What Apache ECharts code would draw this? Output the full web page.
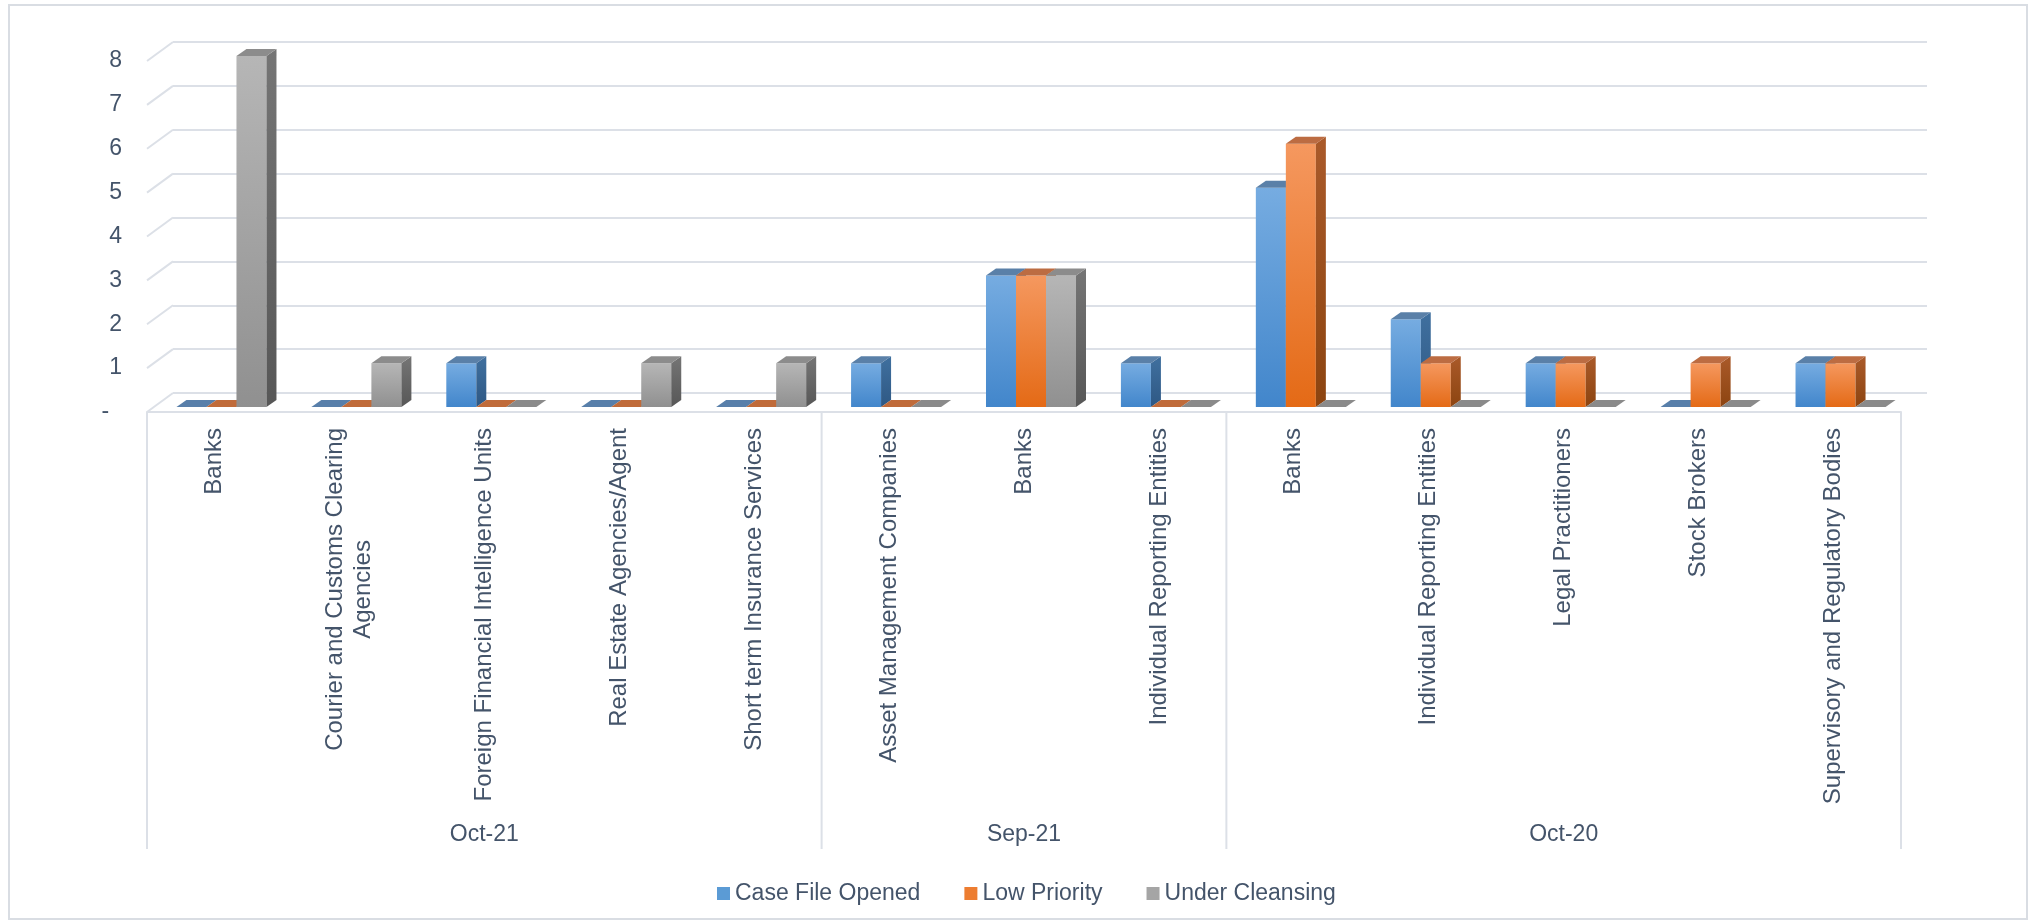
<!DOCTYPE html>
<html>
<head>
<meta charset="utf-8">
<title>Reports by sector and status</title>
<script src="https://cdn.jsdelivr.net/npm/echarts@6/dist/echarts.min.js"></script>
<style>
  html, body { margin: 0; padding: 0; background: #ffffff; }
  #chart { width: 2035px; height: 924px; }
</style>
</head>
<body>
<div id="chart"></div>
<script>
// ---- data ----
const categories = [
  'Banks',
  'Courier and Customs Clearing Agencies',
  'Foreign Financial Intelligence Units',
  'Real Estate Agencies/Agent',
  'Short term Insurance Services',
  'Asset Management Companies',
  'Banks',
  'Individual Reporting Entities',
  'Banks',
  'Individual Reporting Entities',
  'Legal Practitioners',
  'Stock Brokers',
  'Supervisory and Regulatory Bodies'
];
const periodNames = ['Oct-21', 'Sep-21', 'Oct-20'];
const periodSizes = [5, 3, 5];

const seriesNames = ['Case File Opened', 'Low Priority', 'Under Cleansing'];
const caseFileOpened = [0, 0, 1, 0, 0, 1, 3, 1, 5, 2, 1, 0, 1];
const lowPriority    = [0, 0, 0, 0, 0, 0, 3, 0, 6, 1, 1, 1, 1];
const underCleansing = [8, 1, 0, 1, 1, 0, 3, 0, 0, 0, 0, 0, 0];

const yTicks = [0, 1, 2, 3, 4, 5, 6, 7, 8];
const zeroTickLabel = '-';

// ---- styling ----
const FONT = '"Liberation Sans", Arial, Helvetica, sans-serif';
const TEXT = '#44546A';
const LINE = '#DCE0E7';
const DEPTH = [26, -19];     // depth of floor and side wall
const BAR_FRONT = [7, -5];   // bars stand a little behind the floor's front edge
const BAR_DEPTH = [10, -7];  // thickness of each bar
const BAR_FRAC = 0.2224;     // bar width as a share of one category band

const palettes = [
  { legend: '#5B9BD5', front: ['#76ACE1', '#4286CB'], side: ['#40709F', '#2E5884'], top: '#5A80A8', flat: '#587FAA' },
  { legend: '#ED7D31', front: ['#F5985F', '#E46A16'], side: ['#AA5A2A', '#8C4410'], top: '#BC6C42', flat: '#C06B3A' },
  { legend: '#A5A5A5', front: ['#B6B6B6', '#909090'], side: ['#757575', '#575757'], top: '#8C8C8C', flat: '#8A8A8A' }
];
const seriesValues = [caseFileOpened, lowPriority, underCleansing];

function vGrad(stops) {
  return new echarts.graphic.LinearGradient(0, 0, 0, 1, [
    { offset: 0, color: stops[0] },
    { offset: 1, color: stops[1] }
  ]);
}

// wrap long category names into lines no wider than maxW
const measureCtx = document.createElement('canvas').getContext('2d');
measureCtx.font = '24px "Liberation Sans", Arial, sans-serif';
function wrapLabel(text, maxW) {
  const words = text.split(' ');
  const lines = [];
  let cur = '';
  words.forEach(w => {
    const test = cur ? cur + ' ' + w : w;
    if (cur && measureCtx.measureText(test).width > maxW) {
      lines.push(cur);
      cur = w;
    } else {
      cur = test;
    }
  });
  if (cur) lines.push(cur);
  return lines;
}

// 3D-looking column: front face, right side face, top face; zero values lie flat on the floor
function barRenderer(s) {
  const pal = palettes[s];
  return function (params, api) {
    const i = api.value(0);
    const v = api.value(1);
    const base = api.coord([i, 0]);
    const top = api.coord([i, v]);
    const band = api.size([1, 0])[0];
    const w = band * BAR_FRAC;
    const x0 = base[0] + BAR_FRONT[0] + (s - 1.5) * w;
    const yB = base[1] + BAR_FRONT[1];
    const yT = top[1] + BAR_FRONT[1];
    const dx = BAR_DEPTH[0], dy = BAR_DEPTH[1];
    const children = [];
    if (v > 0) {
      children.push({
        type: 'rect',
        shape: { x: x0, y: yT, width: w, height: yB - yT },
        style: { fill: vGrad(pal.front) }
      });
      children.push({
        type: 'polygon',
        shape: { points: [[x0 + w, yT], [x0 + w + dx, yT + dy], [x0 + w + dx, yB + dy], [x0 + w, yB]] },
        style: { fill: vGrad(pal.side) }
      });
      children.push({
        type: 'polygon',
        shape: { points: [[x0, yT], [x0 + dx, yT + dy], [x0 + w + dx, yT + dy], [x0 + w, yT]] },
        style: { fill: pal.top }
      });
    } else {
      children.push({
        type: 'polygon',
        shape: { points: [[x0, yB], [x0 + dx, yB + dy], [x0 + w + dx, yB + dy], [x0 + w, yB]] },
        style: { fill: pal.flat }
      });
    }
    return { type: 'group', children: children };
  };
}

const periodStarts = periodSizes.map((n, k) => periodSizes.slice(0, k).reduce((a, b) => a + b, 0));

const chart = echarts.init(document.getElementById('chart'), null, { renderer: 'canvas' });

const barSeries = seriesNames.map((name, s) => ({
  name: name,
  type: 'custom',
  xAxisIndex: 1,
  yAxisIndex: 1,
  itemStyle: { color: palettes[s].legend },
  data: seriesValues[s].map((v, i) => [i, v]),
  encode: { x: 0, y: 1 },
  renderItem: barRenderer(s),
  z: 5
}));

const option = {
  animation: false,
  backgroundColor: '#ffffff',
  textStyle: { fontFamily: FONT, color: TEXT },
  graphic: [{
    type: 'rect',
    shape: { x: 9, y: 5, width: 2018, height: 914 },
    style: { fill: 'none', stroke: '#D9DDE3', lineWidth: 2 },
    silent: true
  }],
  legend: {
    data: seriesNames.map(n => ({ name: n, icon: 'rect' })),
    left: 712,
    top: 877,
    itemWidth: 13,
    itemHeight: 13,
    itemGap: 44,
    textStyle: { fontSize: 23, color: TEXT, fontFamily: FONT },
    selectedMode: false
  },
  grid: [
    // back wall
    { left: 173, top: 42, width: 1754, height: 351, outerBoundsMode: 'none' },
    // front plane (floor edge, labels and columns)
    { left: 147, top: 61, width: 1754, height: 351, outerBoundsMode: 'none' }
  ],
  xAxis: [
    { gridIndex: 0, type: 'category', data: categories, show: false },
    {
      gridIndex: 1,
      type: 'category',
      data: categories,
      axisLine: { show: true, lineStyle: { color: LINE, width: 2 } },
      axisTick: { show: false },
      splitLine: { show: false },
      axisLabel: {
        interval: 0,
        rotate: 90,
        margin: 16,
        fontSize: 24,
        color: TEXT,
        fontFamily: FONT,
        formatter: function (val) {
          const lines = wrapLabel(val, 380);
          return lines.length > 1 ? '{c|' + lines.join('\n') + '}' : val;
        },
        rich: {
          c: { align: 'center', fontSize: 24, lineHeight: 28, color: TEXT, fontFamily: FONT }
        }
      }
    }
  ],
  yAxis: [
    {
      gridIndex: 0,
      type: 'value',
      min: yTicks[0],
      max: yTicks[yTicks.length - 1],
      interval: 1,
      axisLine: { show: false },
      axisTick: { show: false },
      axisLabel: { show: false },
      splitLine: { show: true, lineStyle: { color: LINE, width: 2 } }
    },
    {
      gridIndex: 1,
      type: 'value',
      min: yTicks[0],
      max: yTicks[yTicks.length - 1],
      interval: 1,
      axisLine: { show: false },
      axisTick: { show: false },
      splitLine: { show: false },
      axisLabel: {
        margin: 25,
        fontSize: 23,
        color: TEXT,
        fontFamily: FONT,
        formatter: v => (v === 0 ? zeroTickLabel + '\u00a0\u00a0' : String(v))
      }
    }
  ],
  series: [
    // side-wall edges joining the front tick positions to the back-wall gridlines
    {
      type: 'custom',
      xAxisIndex: 1,
      yAxisIndex: 1,
      silent: true,
      data: yTicks.map(v => [0, v]),
      encode: { x: 0, y: 1 },
      renderItem: function (params, api) {
        const x = params.coordSys.x;
        const y = api.coord([0, api.value(1)])[1];
        return {
          type: 'line',
          shape: { x1: x, y1: y, x2: x + DEPTH[0], y2: y + DEPTH[1] },
          style: { stroke: LINE, lineWidth: 2 }
        };
      },
      z: 1
    },
    // period grouping: divider lines and period names under the category labels
    {
      type: 'custom',
      xAxisIndex: 1,
      yAxisIndex: 1,
      silent: true,
      data: periodNames.map((name, k) => [periodStarts[k], periodSizes[k]]),
      encode: { x: 0 },
      renderItem: function (params, api) {
        const start = api.value(0);
        const n = api.value(1);
        const band = api.size([1, 0])[0];
        const c0 = api.coord([start, 0]);
        const xL = c0[0] - band / 2;
        const xR = xL + n * band;
        const y0 = c0[1];
        const children = [];
        if (start === 0) {
          children.push({ type: 'line', shape: { x1: xL, y1: y0, x2: xL, y2: y0 + 437 }, style: { stroke: LINE, lineWidth: 2 } });
        }
        children.push({ type: 'line', shape: { x1: xR, y1: y0, x2: xR, y2: y0 + 437 }, style: { stroke: LINE, lineWidth: 2 } });
        children.push({
          type: 'text',
          x: (xL + xR) / 2,
          y: y0 + 423,
          style: {
            text: periodNames[params.dataIndex],
            fill: TEXT,
            font: '23px ' + FONT,
            align: 'center',
            verticalAlign: 'middle'
          }
        });
        return { type: 'group', children: children };
      },
      z: 1
    }
  ].concat(barSeries)
};

chart.setOption(option);
</script>
</body>
</html>
